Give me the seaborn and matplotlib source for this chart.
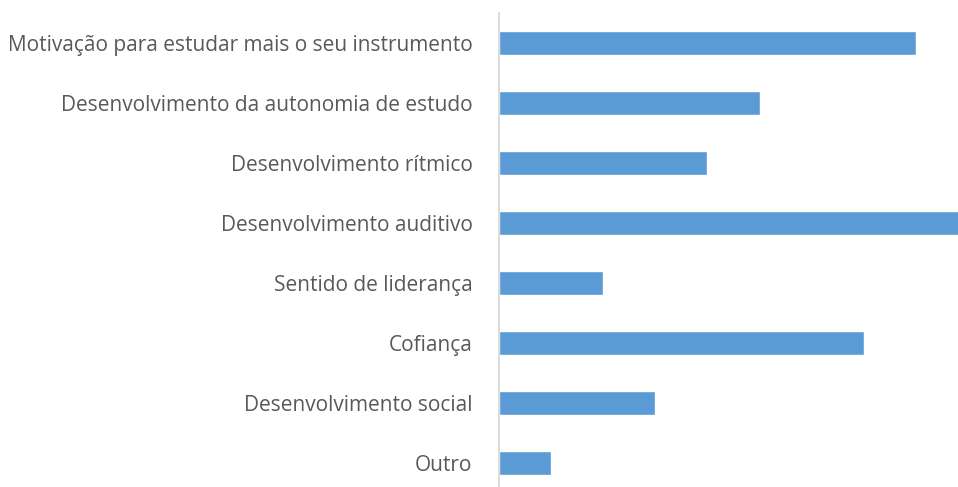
import matplotlib
matplotlib.use("Agg")
import matplotlib.pyplot as plt
import seaborn as sns
import pandas as pd

categories = [
    "Motivação para estudar mais o seu instrumento",
    "Desenvolvimento da autonomia de estudo",
    "Desenvolvimento rítmico",
    "Desenvolvimento auditivo",
    "Sentido de liderança",
    "Cofiança",
    "Desenvolvimento social",
    "Outro",
]
values = [8, 5, 4, 9, 2, 7, 3, 1]

df = pd.DataFrame({"cat": categories, "val": values})

sns.set_theme(style="white")
plt.rcParams["font.family"] = ["Open Sans", "DejaVu Sans"]

W, H = 958, 487
fig = plt.figure(figsize=(W / 100, H / 100), dpi=100)
ax = fig.add_axes([499 / W, (H - 493) / H, (W - 499) / W + 0.02, 480 / H])

sns.barplot(data=df, y="cat", x="val", orient="h", color="#5B9BD5",
            saturation=1, width=0.4, ax=ax)

px_per_unit = 52.1
ax.set_xlim(0, (W - 499 + 0.02 * W) / px_per_unit)
ax.set_ylim(len(categories) - 0.5, -0.5)
ax.set_xlabel("")
ax.set_ylabel("")
ax.set_xticks([])
for s in ["top", "right", "bottom"]:
    ax.spines[s].set_visible(False)
ax.spines["left"].set_color("#D9D9D9")
ax.spines["left"].set_linewidth(1.3)
ax.tick_params(axis="y", length=0, pad=19, labelsize=15, labelcolor="#595959")

fig.savefig("out.png", dpi=100)
